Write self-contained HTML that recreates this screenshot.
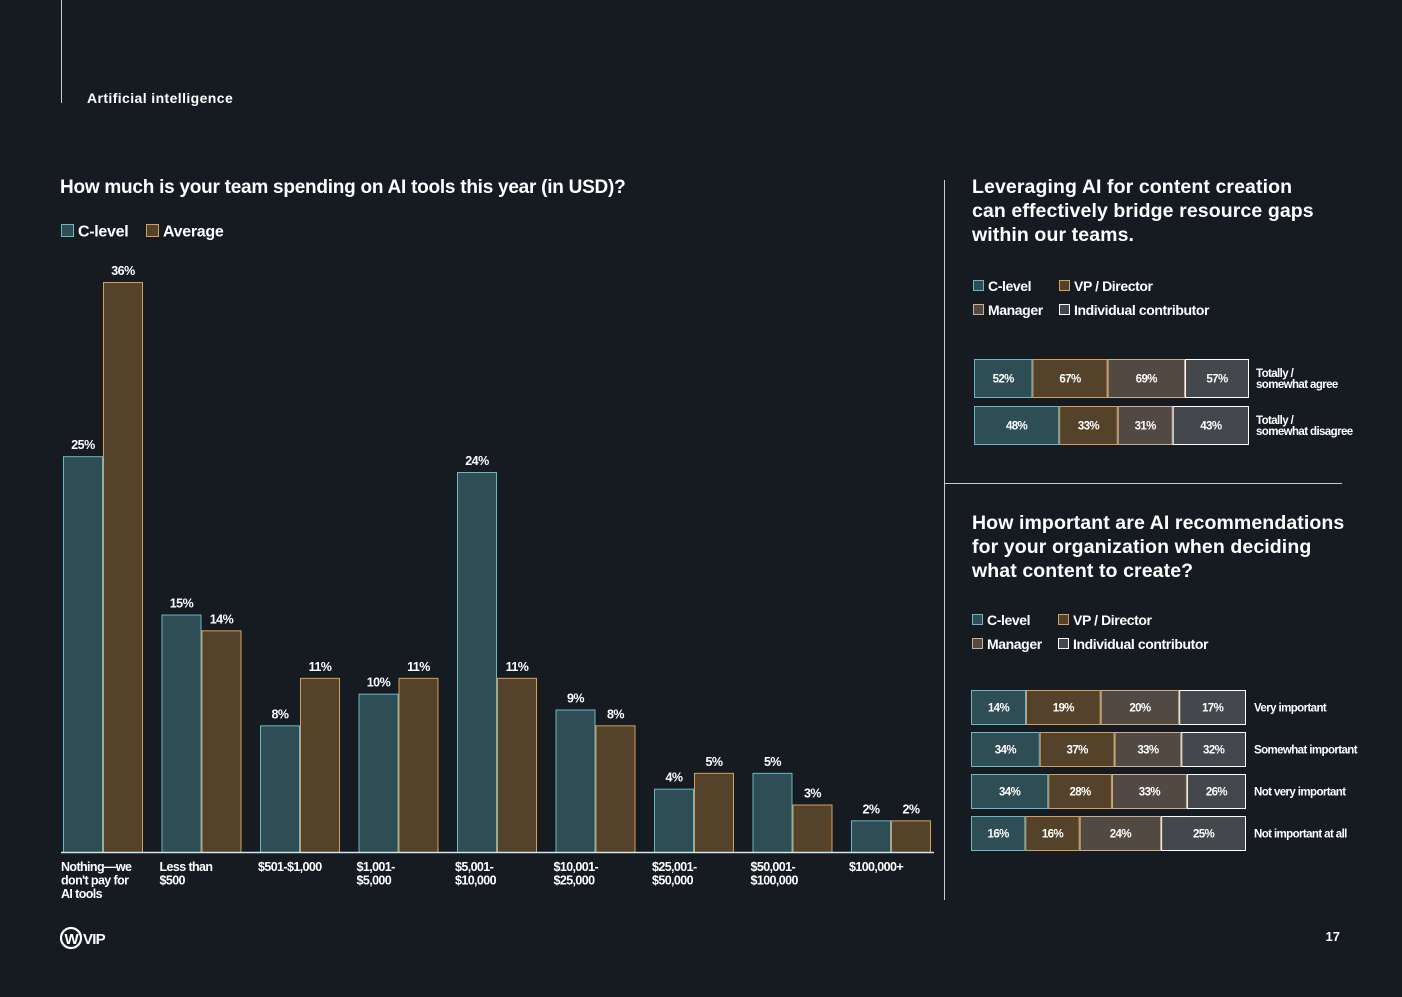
<!DOCTYPE html>
<html><head><meta charset="utf-8"><style>
html,body{margin:0;padding:0;background:#161a21;}
body{width:1402px;height:992px;overflow:hidden;font-family:"Liberation Sans",sans-serif;}
svg text{font-family:"Liberation Sans",sans-serif;fill:#fff;font-weight:bold;}
</style></head><body>
<svg id="s" width="1402" height="992" viewBox="0 0 1402 992">
<rect width="1402" height="992" fill="#161a21"/>
<line x1="61.5" y1="0" x2="61.5" y2="103" stroke="#c8ccd0" stroke-width="1"/>
<text x="87" y="103" font-size="14" letter-spacing="0.4">Artificial intelligence</text>
<line x1="944.5" y1="180" x2="944.5" y2="900" stroke="#c8ccd0"/>
<line x1="944" y1="483.5" x2="1342" y2="483.5" stroke="#c8ccd0"/>
<text x="60" y="193" font-size="19" letter-spacing="-0.25">How much is your team spending on AI tools this year (in USD)?</text>
<g>
<rect x="61.5" y="224.5" width="12" height="12" fill="#2e4d54" stroke="#6ab8c4"/>
<text x="78" y="236.5" font-size="16" font-weight="normal" letter-spacing="-0.3">C-level</text>
<rect x="146.5" y="224.5" width="12" height="12" fill="#54432a" stroke="#d4a060"/>
<text x="163" y="236.5" font-size="16" font-weight="normal" letter-spacing="-0.3">Average</text>
</g>
<g id="left"></g>
<line x1="61" y1="852.5" x2="934" y2="852.5" stroke="#cfe6ea" stroke-width="1.5"/>
<g>
<text x="972" y="193" font-size="19.5" letter-spacing="0.1">Leveraging AI for content creation</text>
<text x="972" y="217" font-size="19.5" letter-spacing="0.1">can effectively bridge resource gaps</text>
<text x="972" y="241" font-size="19.5" letter-spacing="0.1">within our teams.</text>
</g>
<g>
<text x="972" y="529" font-size="19.5" letter-spacing="0.1">How important are AI recommendations</text>
<text x="972" y="553" font-size="19.5" letter-spacing="0.1">for your organization when deciding</text>
<text x="972" y="577" font-size="19.5" letter-spacing="0.1">what content to create?</text>
</g>
<g id="rt"></g>
<g id="rb"></g>
<g>
<circle cx="71" cy="938" r="10" fill="none" stroke="#fff" stroke-width="2.2"/>
<text x="64.5" y="944" font-size="15" font-family="Liberation Serif">W</text>
<text x="83" y="944" font-size="15" letter-spacing="-0.8">VIP</text>
</g>
<text x="1340" y="941" font-size="13" text-anchor="end">17</text>
</svg>
<script>
const NS='http://www.w3.org/2000/svg';
const categories=[["Nothing\u2014we","don't pay for","AI tools"],["Less than","$500"],["$501-$1,000"],["$1,001-","$5,000"],["$5,001-","$10,000"],["$10,001-","$25,000"],["$25,001-","$50,000"],["$50,001-","$100,000"],["$100,000+"]];
const cLevel=[25,15,8,10,24,9,4,5,2];
const average=[36,14,11,11,11,8,5,3,2];

const rtRows=["Totally /|somewhat agree","Totally /|somewhat disagree"];
const rtCLevel=[52,48], rtVP=[67,33], rtManager=[69,31], rtIC=[57,43];
const rbRows=["Very important","Somewhat important","Not very important","Not important at all"];
const rbCLevel=[14,34,34,16], rbVP=[19,37,28,16], rbManager=[20,33,33,24], rbIC=[17,32,26,25];

function mk(tag,attrs,parent){const e=document.createElementNS(NS,tag);for(const k in attrs)e.setAttribute(k,attrs[k]);parent.appendChild(e);return e;}
const base=852, pxPer=570/36;
const yS=v=>base-v*pxPer;
const xS=i=>63+i*98.5;
const left=document.getElementById('left');
const series=[[cLevel,'#2e4d54','#6ab8c4','c-level'],[average,'#54432a','#d4a060','average']];
categories.forEach((cat,i)=>{
  series.forEach(([arr,f,s,n],j)=>{
    const x=xS(i)+j*40, y=yS(arr[i]);
    const r=mk('rect',{x:x+0.5,y:y+0.5,width:39,height:base-y,fill:f,stroke:s,'stroke-width':1},left);
    
    
    const t=mk('text',{x:x+20,y:y-7,'font-size':12.5,'text-anchor':'middle','letter-spacing':'-0.5'},left);
    t.textContent=arr[i]+'%';
    
    
  });
  cat.forEach((ln,k)=>{
    const t=mk('text',{x:xS(i)-2,y:871+k*13.5,'font-size':12.5,'letter-spacing':'-0.6'},left);
    t.textContent=ln;
    
    
  });
});

const fills=['#2e4d54','#54432a','#524a42','#44474c'], strokes=['#6ab8c4','#d4a060','#c8b090','#ffffff'], names=['c-level','vp-director','manager','individual-contributor'];
function legend(g,x,y){
  const labels=['C-level','VP / Director','Manager','Individual contributor'];
  const pos=[[x,y],[x+86,y],[x,y+24],[x+86,y+24]];
  labels.forEach((l,i)=>{
    const r=mk('rect',{x:pos[i][0]+0.5,y:pos[i][1]-10.5,width:10,height:10,fill:fills[i],stroke:strokes[i]},g);
    
    
    const t=mk('text',{x:pos[i][0]+15,y:pos[i][1],'font-size':14,'font-weight':'normal','letter-spacing':'-0.4'},g);
    t.textContent=l;
    
    
  });
}
function stacked(g,rows,arrs,x0,w,y0,h,gap,labX,prefix){
  rows.forEach((row,r)=>{
    const vals=arrs.map(a=>a[r]); const tot=vals.reduce((a,b)=>a+b,0);
    let x=x0; const y=y0+r*(h+gap);
    vals.forEach((v,i)=>{
      const sw=v/tot*w;
      const rc=mk('rect',{x:x+0.5,y:y+0.5,width:sw-1,height:h-1,fill:fills[i],stroke:strokes[i]},g);
      
      
      const t=mk('text',{x:x+sw/2,y:y+h/2+4,'font-size':11.5,'text-anchor':'middle','letter-spacing':'-0.6'},g);
      t.textContent=v+'%';
      
      
      x+=sw;
    });
    const parts=row.split('|');
    parts.forEach((p,k)=>{
      const t=mk('text',{x:labX,y:y+h/2+4+(parts.length>1?(k-0.5)*11:0),'font-size':11.5,'letter-spacing':'-0.6'},g);
      t.textContent=p;
      
      
    });
  });
}
const rt=document.getElementById('rt'), rb=document.getElementById('rb');
legend(rt,973,291);
stacked(rt,rtRows,[rtCLevel,rtVP,rtManager,rtIC],974,275,359,39,8,1256,'agree-chart');
legend(rb,972,625);
stacked(rb,rbRows,[rbCLevel,rbVP,rbManager,rbIC],971,275,690,35,7,1254,'importance-chart');
</script>
</body></html>
